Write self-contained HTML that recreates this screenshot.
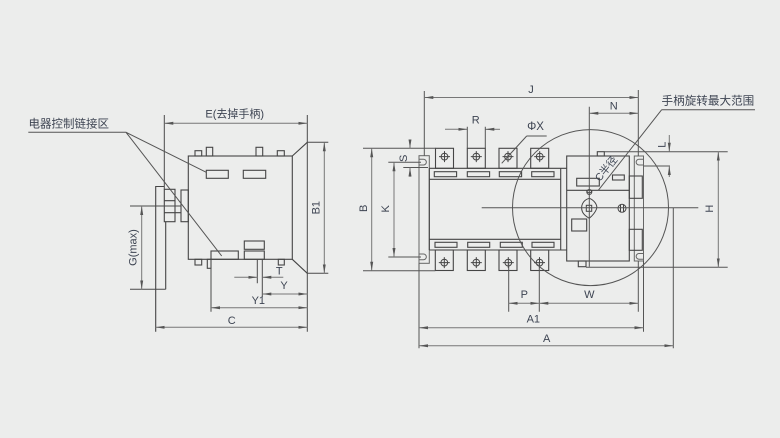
<!DOCTYPE html>
<html><head><meta charset="utf-8"><style>
html,body{margin:0;padding:0;background:#ecedec;}
svg{display:block;}
text{font-family:"Liberation Sans","Noto Sans CJK SC",sans-serif;font-size:11px;fill:#3d4452;}
</style></head><body>
<svg width="780" height="438" viewBox="0 0 780 438" xmlns="http://www.w3.org/2000/svg">
<defs>
<marker id="a" viewBox="0 0 9 4" refX="9" refY="2" markerWidth="9" markerHeight="4" orient="auto-start-reverse" markerUnits="userSpaceOnUse"><path d="M0,0.5 L9,2 L0,3.5z" fill="#555"/></marker>
</defs>
<rect width="780" height="438" fill="#ecedec"/>

<!-- ================= LEFT DIAGRAM ================= -->
<g stroke="#454545" fill="none" stroke-width="1.1">
<rect x="188.3" y="156" width="104" height="103.3"/>
<rect x="195" y="150.7" width="6.7" height="5.3"/>
<rect x="206.3" y="147.3" width="6.4" height="8.7"/>
<rect x="256" y="147.3" width="6.7" height="8.7"/>
<rect x="277.3" y="150.7" width="7" height="5.3"/>
<rect x="206.3" y="170.3" width="22" height="8"/>
<rect x="243.3" y="170.3" width="22.4" height="8"/>
<rect x="244.3" y="241" width="20" height="8.3"/>
<rect x="244.3" y="251" width="20" height="8.3"/>
<rect x="211" y="251" width="27.3" height="8.3"/>
<rect x="195" y="259.3" width="6.7" height="5.7"/>
<rect x="207.3" y="259.3" width="3.7" height="9"/>
<rect x="278.3" y="259.3" width="6" height="5.7"/>
<path d="M292.3 156 L307.3 142.3 M292.3 259.3 L307.3 273.3"/>
<rect x="181" y="190" width="7.3" height="31.7"/>
<path d="M155.7 331.7 V186.5 H164.3"/>
<rect x="164.3" y="189.3" width="10.7" height="32.4"/>
<path d="M164.3 200.7 H175 M164.3 212.7 H181"/>
<path d="M165.7 221.7 V289.3"/>
</g>
<!-- left extension lines -->
<g stroke="#4a4a4a" fill="none" stroke-width="1">
<path d="M164.3 115 V189.3"/>
<path d="M307.3 115 V331.7"/>
<path d="M307.3 142.3 H328.3 M307.3 273.3 H328.3"/>
<path d="M130 206 H181 M130 289.3 H165.7"/>
<path d="M211 259.3 V311.7"/>
<path d="M257.3 259.3 V283.3 M262.3 259.3 V297"/>
</g>
<!-- leaders -->
<path d="M28.3 132.3 H126 L206.3 172.3 M126 132.3 L221.7 256" stroke="#555" fill="none" stroke-width="1"/>
<!-- left dimension lines -->
<g stroke="#777" fill="none" stroke-width="1">
<line x1="164.3" y1="123.3" x2="307.3" y2="123.3" marker-start="url(#a)" marker-end="url(#a)"/>
<line x1="324.3" y1="142.3" x2="324.3" y2="273.3" marker-start="url(#a)" marker-end="url(#a)"/>
<line x1="141.7" y1="206" x2="141.7" y2="289.3" marker-start="url(#a)" marker-end="url(#a)"/>
<line x1="234.3" y1="277.3" x2="257.3" y2="277.3" marker-end="url(#a)"/>
<line x1="283.3" y1="277.3" x2="262.3" y2="277.3" marker-end="url(#a)"/>
<line x1="262.3" y1="294" x2="307.3" y2="294" marker-start="url(#a)" marker-end="url(#a)"/>
<line x1="211" y1="307.7" x2="307.3" y2="307.7" marker-start="url(#a)" marker-end="url(#a)"/>
<line x1="155.7" y1="327.3" x2="307.3" y2="327.3" marker-start="url(#a)" marker-end="url(#a)"/>
</g>
<!-- left texts -->
<text x="28.5" y="127.5" style="font-size:11.5px">电器控制链接区</text>
<text x="234.7" y="117.6" text-anchor="middle">E(去掉手柄)</text>
<text transform="translate(133.3,247.5) rotate(-90)" text-anchor="middle" dominant-baseline="central">G(max)</text>
<text transform="translate(316.7,207.7) rotate(-90)" text-anchor="middle" dominant-baseline="central">B1</text>
<text x="279.3" y="271.7" text-anchor="middle" dominant-baseline="central">T</text>
<text x="284" y="286" text-anchor="middle" dominant-baseline="central">Y</text>
<text x="258.3" y="301" text-anchor="middle" dominant-baseline="central">Y1</text>
<text x="231.7" y="321" text-anchor="middle" dominant-baseline="central">C</text>

<!-- ================= RIGHT DIAGRAM ================= -->
<!-- brackets -->
<g stroke="#666" fill="none" stroke-width="1">
<rect x="419" y="155.7" width="10.3" height="107.6"/>
<path d="M419 159.3 H423.5 A2.8 2.8 0 0 1 423.5 165 H419"/>
<path d="M419 254 H423.5 A2.8 2.8 0 0 1 423.5 259.7 H419"/>
<rect x="634.3" y="156" width="9.2" height="105"/>
<path d="M643.5 159.3 H639 A2.8 2.8 0 0 0 639 165 H643.5"/>
<path d="M643.5 253.5 H639 A2.8 2.8 0 0 0 639 259.2 H643.5"/>
</g>
<g stroke="#454545" fill="none" stroke-width="1.1">
<!-- body -->
<path d="M429.3 168.3 H566.7 M429.3 179.3 H560.7 M429.3 239.3 H560.7 M429.3 250 H566.7"/>
<path d="M429.3 168.3 V250 M560.7 168.3 V250"/>
<!-- slots -->
<rect x="434.3" y="171.7" width="22.3" height="5"/>
<rect x="467.3" y="171.7" width="22.3" height="5"/>
<rect x="499.3" y="171.7" width="22.3" height="5"/>
<rect x="531.7" y="171.7" width="22.3" height="5"/>
<rect x="435" y="242.3" width="22" height="5"/>
<rect x="467.7" y="242.3" width="22" height="5"/>
<rect x="500.3" y="242.3" width="22" height="5"/>
<rect x="532" y="242.3" width="22" height="5"/>
<!-- top terminals -->
<rect x="435.5" y="148.3" width="18" height="20"/>
<rect x="467.3" y="148.3" width="18" height="20"/>
<rect x="499" y="148.3" width="18" height="20"/>
<rect x="530.7" y="148.3" width="18" height="20"/>
<!-- bottom terminals -->
<rect x="435.3" y="250" width="18" height="20.5"/>
<rect x="467.3" y="250" width="18" height="20.5"/>
<rect x="499" y="250" width="18" height="20.5"/>
<rect x="530.7" y="250" width="18" height="20.5"/>
</g>
<g stroke="#454545" fill="none" stroke-width="1">
<circle cx="444.5" cy="156.6" r="3.4"/><path d="M439 156.6 H450 M444.5 151.1 V162.1"/>
<circle cx="476.3" cy="156.6" r="3.4"/><path d="M470.8 156.6 H481.8 M476.3 151.1 V162.1"/>
<circle cx="508" cy="156.6" r="3.4"/><path d="M502.5 156.6 H513.5 M508 151.1 V162.1"/>
<circle cx="539.7" cy="156.6" r="3.4"/><path d="M534.2 156.6 H545.2 M539.7 151.1 V162.1"/>
<circle cx="444.3" cy="262.6" r="3.4"/><path d="M438.8 262.6 H449.8 M444.3 257.1 V268.1"/>
<circle cx="476.3" cy="262.6" r="3.4"/><path d="M470.8 262.6 H481.8 M476.3 257.1 V268.1"/>
<circle cx="508.3" cy="262.6" r="3.4"/><path d="M502.8 262.6 H513.8 M508.3 257.1 V268.1"/>
<circle cx="539.5" cy="262.6" r="3.4"/><path d="M534 262.6 H545 M539.5 257.1 V268.1"/>
</g>
<!-- handle box -->
<g stroke="#454545" fill="none" stroke-width="1.1">
<rect x="566.7" y="156" width="62.6" height="105"/>
<path d="M566.7 190.3 H629.3"/>
<rect x="597.3" y="151.7" width="7" height="4.3"/>
<rect x="578.3" y="261" width="7.7" height="5.7"/>
<rect x="576.7" y="178.3" width="22.6" height="7.7"/>
<rect x="612.5" y="175" width="11.8" height="5"/>
<rect x="571.7" y="219" width="15" height="12"/>
<rect x="629.3" y="176" width="13" height="22.3"/>
<rect x="629.3" y="229.3" width="13" height="21"/>
</g>
<g stroke="#454545" fill="none" stroke-width="1">
<path d="M586.7 190.3 A2.6 2.6 0 0 0 591.9 190.3"/>
<circle cx="589.3" cy="192" r="2.5"/>
<path d="M589.3 198.3 C583 200 580 206 582.5 212 C584 215 587 217 589.3 218.3 M589.3 198.3 C594 200 598 205 596.5 209 C595 213 592 216 589.3 218.3"/>
<rect x="586.3" y="205.3" width="5.4" height="6"/>
<circle cx="622" cy="208.3" r="4"/>
<path d="M620.5 204.6 V212 M623.5 204.6 V212"/>
</g>
<!-- big circle -->
<circle cx="590.5" cy="207.6" r="78" stroke="#555" fill="none" stroke-width="1"/>
<!-- right extension lines -->
<g stroke="#555" fill="none" stroke-width="1">
<path d="M424.3 91 V155.7"/>
<path d="M638.3 90 V156 M638.3 261 V311.7"/>
<path d="M589.3 106.7 V266.7"/>
<path d="M363 148.3 H435.5 M363 270.7 H435.3"/>
<path d="M388.3 162.3 H421 M388.3 257 H421"/>
<path d="M403.3 167.5 H428"/>
<path d="M604.3 151.7 H727.7 M586 267.3 H727.7"/>
<path d="M643.5 166 H670"/>
<path d="M508.7 263 V311.7 M539.3 263 V311.7"/>
<path d="M643.5 261 V331.7"/>
<path d="M673.3 208 V348.3"/>
<path d="M419 263.3 V348.3"/>
<path d="M481.7 207.8 H698.3"/>
<path d="M661.7 109.7 H755 M661.7 109.7 L598.3 190.3"/>
<path d="M526.7 136 H546.7 M526.7 136 L501.7 163.3"/>
</g>
<!-- right dimension lines -->
<g stroke="#777" fill="none" stroke-width="1">
<line x1="424.3" y1="97.5" x2="638.3" y2="97.5" marker-start="url(#a)" marker-end="url(#a)"/>
<line x1="589.3" y1="113.3" x2="638.3" y2="113.3" marker-start="url(#a)" marker-end="url(#a)"/>
<line x1="445" y1="129.3" x2="467.3" y2="129.3" marker-end="url(#a)"/>
<line x1="500" y1="129.3" x2="485.3" y2="129.3" marker-end="url(#a)"/>
<path d="M467.3 126.7 V148.3 M485.3 126.7 V148.3" stroke="#555"/>
<line x1="410" y1="141.7" x2="410" y2="148.3" marker-end="url(#a)"/>
<line x1="410" y1="176.7" x2="410" y2="167.5" marker-end="url(#a)"/>
<line x1="669.3" y1="135" x2="669.3" y2="151.7" marker-end="url(#a)"/>
<line x1="669.3" y1="177" x2="669.3" y2="166" marker-end="url(#a)"/>
<line x1="718.3" y1="151.7" x2="718.3" y2="267.3" marker-start="url(#a)" marker-end="url(#a)"/>
<line x1="371.7" y1="148.3" x2="371.7" y2="270.7" marker-start="url(#a)" marker-end="url(#a)"/>
<line x1="394" y1="162.3" x2="394" y2="257" marker-start="url(#a)" marker-end="url(#a)"/>
<line x1="508.7" y1="303.3" x2="539.3" y2="303.3" marker-start="url(#a)" marker-end="url(#a)"/>
<line x1="539.3" y1="303.3" x2="638.3" y2="303.3" marker-start="url(#a)" marker-end="url(#a)"/>
<line x1="419" y1="327.7" x2="643.5" y2="327.7" marker-start="url(#a)" marker-end="url(#a)"/>
<line x1="419" y1="345.7" x2="673.3" y2="345.7" marker-start="url(#a)" marker-end="url(#a)"/>
</g>
<!-- right texts -->
<text x="531" y="90" text-anchor="middle" dominant-baseline="central">J</text>
<text x="613.7" y="106.7" text-anchor="middle" dominant-baseline="central">N</text>
<text x="475.7" y="120.7" text-anchor="middle" dominant-baseline="central">R</text>
<text x="535.5" y="127" text-anchor="middle" dominant-baseline="central" style="font-size:11.5px">ΦX</text>
<text x="661.5" y="104.6" style="font-size:11.6px">手柄旋转最大范围</text>
<text transform="translate(404.2,158.3) rotate(-90)" text-anchor="middle" dominant-baseline="central">S</text>
<text transform="translate(364.2,208.3) rotate(-90)" text-anchor="middle" dominant-baseline="central">B</text>
<text transform="translate(385.8,208.8) rotate(-90)" text-anchor="middle" dominant-baseline="central">K</text>
<text transform="translate(710,208.7) rotate(-90)" text-anchor="middle" dominant-baseline="central">H</text>
<text transform="translate(662.5,144.7) rotate(-90)" text-anchor="middle" dominant-baseline="central">L</text>
<text transform="translate(606.5,169) rotate(-51)" text-anchor="middle" dominant-baseline="central" style="font-size:10.5px">C半径</text>
<text x="524.3" y="295" text-anchor="middle" dominant-baseline="central">P</text>
<text x="589.3" y="295" text-anchor="middle" dominant-baseline="central">W</text>
<text x="533.3" y="319.3" text-anchor="middle" dominant-baseline="central">A1</text>
<text x="546.7" y="339" text-anchor="middle" dominant-baseline="central">A</text>
</svg>
</body></html>
